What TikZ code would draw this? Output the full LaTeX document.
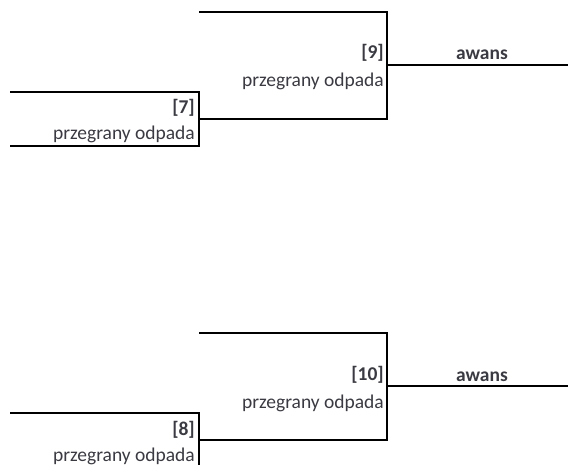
\documentclass[tikz,border=0pt]{standalone}
\usepackage{fontspec}
\setmainfont{Carlito}
\usepackage{tikz}

\definecolor{txtgray}{RGB}{58,58,66}
\tikzset{
  bracket/.style={line width=2pt},
  wonline/.style={line width=1.4pt},
  numtxt/.style={anchor=base east,inner sep=0pt,text=txtgray,font=\fontsize{19.5}{22}\selectfont\bfseries},
  lostxt/.style={anchor=base east,inner sep=0pt,text=txtgray,font=\fontsize{19.5}{22}\selectfont},
  wintxt/.style={anchor=base,inner sep=0pt,text=txtgray,font=\fontsize{19.5}{22}\selectfont\bfseries}
}

\begin{document}
\begin{tikzpicture}[x=1pt,y=-1pt]
\useasboundingbox (0,0) rectangle (568,465);

% upper half: [7] -> [9]
\path (10,92) coordinate (t7)
		(199,92) coordinate (tr7)
		(199,146) coordinate (br7)
		(10,146) coordinate (b7)
		(199,119) coordinate (out7)
		(387,119) coordinate (br9)
		(387,12) coordinate (tr9)
		(199,12) coordinate (t9)
		(387,65) coordinate (out9)
		(568,65) coordinate (end9)
		(195,114) node[numtxt] (n7) {[7]}
		(195,140) node[lostxt] (l7) {przegrany odpada}
		(384,59) node[numtxt] (n9) {[9]}
		(384,87) node[lostxt] (l9) {przegrany odpada}
		(482,60) node[wintxt] (a9) {awans}
		;

\draw [bracket] (t7) -- (tr7) -- (br7) -- (b7);
\draw [bracket] (out7) -- (br9) -- (tr9) -- (t9);
\draw [wonline] (out9) -- (end9);

% lower half: [8] -> [10]
\path (10,413) coordinate (t8)
		(199,413) coordinate (tr8)
		(199,467) coordinate (br8)
		(10,467) coordinate (b8)
		(199,440) coordinate (out8)
		(387,440) coordinate (br10)
		(387,333) coordinate (tr10)
		(199,333) coordinate (t10)
		(387,386) coordinate (out10)
		(568,386) coordinate (end10)
		(195,435) node[numtxt] (n8) {[8]}
		(195,461) node[lostxt] (l8) {przegrany odpada}
		(384,380) node[numtxt] (n10) {[10]}
		(384,408) node[lostxt] (l10) {przegrany odpada}
		(482,381) node[wintxt] (a10) {awans}
		;

\draw [bracket] (t8) -- (tr8) -- (br8) -- (b8);
\draw [bracket] (out8) -- (br10) -- (tr10) -- (t10);
\draw [wonline] (out10) -- (end10);
\end{tikzpicture}
\end{document}
